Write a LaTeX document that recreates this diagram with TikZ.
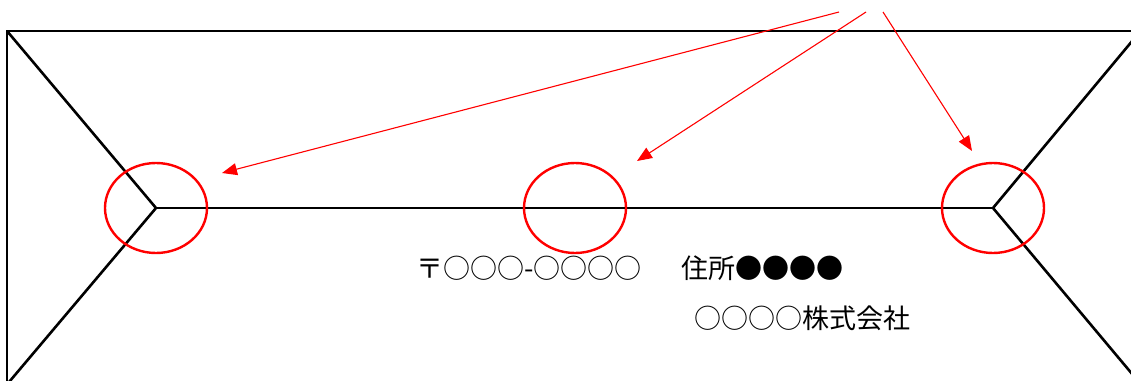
\documentclass[tikz,border=0pt]{standalone}
\usepackage{fontspec}
\newfontfamily\jp{Noto Sans CJK JP}
\usetikzlibrary{shapes.geometric,arrows.meta}
\begin{document}
\begin{tikzpicture}[x=1pt,y=-1pt,
  edge/.style={line width=2.6pt,line join=miter},
  mark circle/.style={draw=red,line width=2.4pt,ellipse,minimum width=102pt,minimum height=90pt,inner sep=0pt},
  pointer/.style={draw=red,line width=1.1pt,-{Triangle[length=15pt,width=12pt]}},
  label text/.style={font=\jp\fontsize{27}{30}\selectfont,anchor=west,inner sep=0pt}]
\useasboundingbox (0,0) rectangle (1131,380);
\begin{scope}
\clip (0,0) rectangle (1131,380);
\coordinate (TL) at (7,31);
\coordinate (TR) at (1140,31);
\coordinate (BL) at (7,390);
\coordinate (L) at (156,208);
\coordinate (R) at (993,208);
\coordinate (LB) at (4,388);
\coordinate (RT) at (1138,34);
\coordinate (RB) at (1138,381);
\draw[edge] (BL) -- (TL) -- (TR);
\draw[edge] (TL) -- (L) -- (LB);
\draw[edge] (L) -- (R);
\draw[edge] (RT) -- (R) -- (RB);
\end{scope}
\node[mark circle] (c1) at (156,208) {};
\node[mark circle] (c2) at (575,208) {};
\node[mark circle] (c3) at (993,208) {};
\coordinate (s1) at (839,12);
\coordinate (s2) at (866,12);
\coordinate (s3) at (883,12);
\coordinate (e1) at (222,173);
\coordinate (e2) at (637,161);
\coordinate (e3) at (972,151);
\draw[pointer] (s1) -- (e1);
\draw[pointer] (s2) -- (e2);
\draw[pointer] (s3) -- (e3);
\node[label text] (zip) at (416,268) {〒○○○-○○○○};
\node[label text] (addr) at (681,268) {住所●●●●};
\node[label text] (co) at (694,318) {○○○○株式会社};
\end{tikzpicture}
\end{document}
